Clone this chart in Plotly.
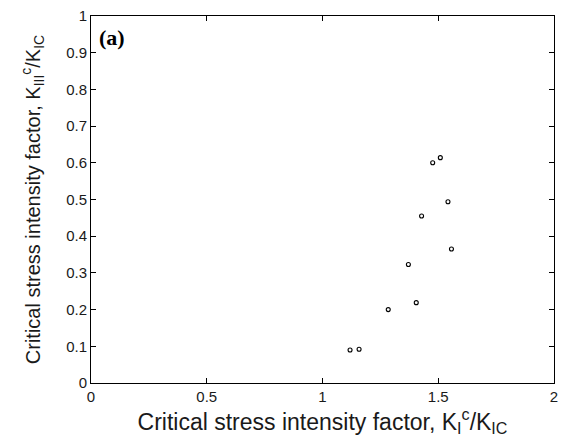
import plotly.graph_objects as go

# Data
k_i = [1.119, 1.158, 1.284, 1.405, 1.371, 1.557, 1.428, 1.542, 1.476, 1.509]
k_iii = [0.090, 0.092, 0.200, 0.219, 0.323, 0.365, 0.455, 0.494, 0.600, 0.614]

x_ticks = [0, 0.5, 1, 1.5, 2]
x_tick_labels = ["0", "0.5", "1", "1.5", "2"]
y_ticks = [0, 0.1, 0.2, 0.3, 0.4, 0.5, 0.6, 0.7, 0.8, 0.9, 1]
y_tick_labels = ["0", "0.1", "0.2", "0.3", "0.4", "0.5", "0.6", "0.7", "0.8", "0.9", "1"]

FONT = "Liberation Sans, Arial, Helvetica, sans-serif"

fig = go.Figure()
fig.add_trace(go.Scatter(
    x=k_i, y=k_iii, mode="markers",
    marker=dict(symbol="circle-open", size=4, color="black", line=dict(width=1.1, color="black")),
    showlegend=False,
))

axis_common = dict(
    showline=True, linecolor="black", linewidth=1, mirror="ticks",
    ticks="inside", ticklen=5, tickcolor="black", tickwidth=1,
    showgrid=False, zeroline=False,
    tickfont=dict(family=FONT, size=15, color="#1a1a1a"),
)

fig.update_xaxes(
    range=[0, 2], tickvals=x_ticks, ticktext=x_tick_labels,
    title=dict(text="Critical stress intensity factor, K<sub>I</sub><sup>c</sup>/K<sub>IC</sub>",
               font=dict(family=FONT, size=23, color="#1a1a1a"),
               standoff=9),
    automargin=False,
    **axis_common,
)
fig.update_yaxes(
    range=[0, 1], tickvals=y_ticks, ticktext=y_tick_labels,
    title=dict(text="Critical stress intensity factor, K<sub>III</sub><sup>c</sup>/K<sub>IC</sub>",
               font=dict(family=FONT, size=20, color="#1a1a1a"),
               standoff=20),
    automargin=False,
    **axis_common,
)

fig.add_annotation(
    x=0.012, y=0.98, xref="paper", yref="paper", xanchor="left", yanchor="top",
    text="<b>(a)</b>", showarrow=False,
    font=dict(family="Liberation Serif, Times New Roman, serif", size=22, color="black"),
)

fig.update_layout(
    width=568, height=448,
    margin=dict(l=91, r=14, t=16, b=65),
    paper_bgcolor="white", plot_bgcolor="white",
)

fig.write_html("out.html")
